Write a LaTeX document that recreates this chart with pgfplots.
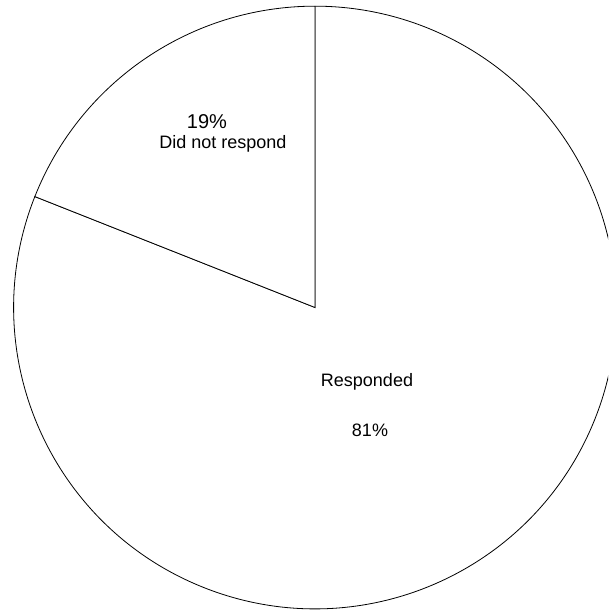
\documentclass[border=0pt]{standalone}
\usepackage{pgfplots}
\pgfplotsset{compat=1.18}
\usepackage{pgfplotstable}
\usepackage{fontspec}
\setmainfont{Liberation Sans}
\pgfplotstableread{
label value
Responded 81
NoResponse 19
}\piedata
\begin{document}
\begin{tikzpicture}
\pgfplotstablegetelem{1}{value}\of\piedata
\pgfmathsetmacro{\aB}{90+3.6*\pgfplotsretval}
\begin{axis}[x=0.75pt,y=0.75pt,xmin=0,xmax=608,ymin=0,ymax=610,
  hide axis,scale only axis,clip=true]
  \draw[line width=0.6pt,fill=white] (axis cs:315,302.5) -- ++(\aB:226pt)
     arc[start angle=\aB,end angle=450,radius=226pt] -- cycle;
  \draw[line width=0.6pt,fill=white] (axis cs:315,302.5) -- ++(90:226pt)
     arc[start angle=90,end angle=\aB,radius=226pt] -- cycle;
  \node[font=\fontsize{15}{17}\selectfont] at (axis cs:207,488) {19\%};
  \node[font=\fontsize{13.5}{16}\selectfont] at (axis cs:223,466) {Did not respond};
  \node[font=\fontsize{13.5}{16}\selectfont] at (axis cs:367,228) {Responded};
  \node[font=\fontsize{13.5}{16}\selectfont] at (axis cs:370,180) {81\%};
\end{axis}
\pgfresetboundingbox
\useasboundingbox (current axis.south west) rectangle (current axis.north east);
\end{tikzpicture}
\end{document}
